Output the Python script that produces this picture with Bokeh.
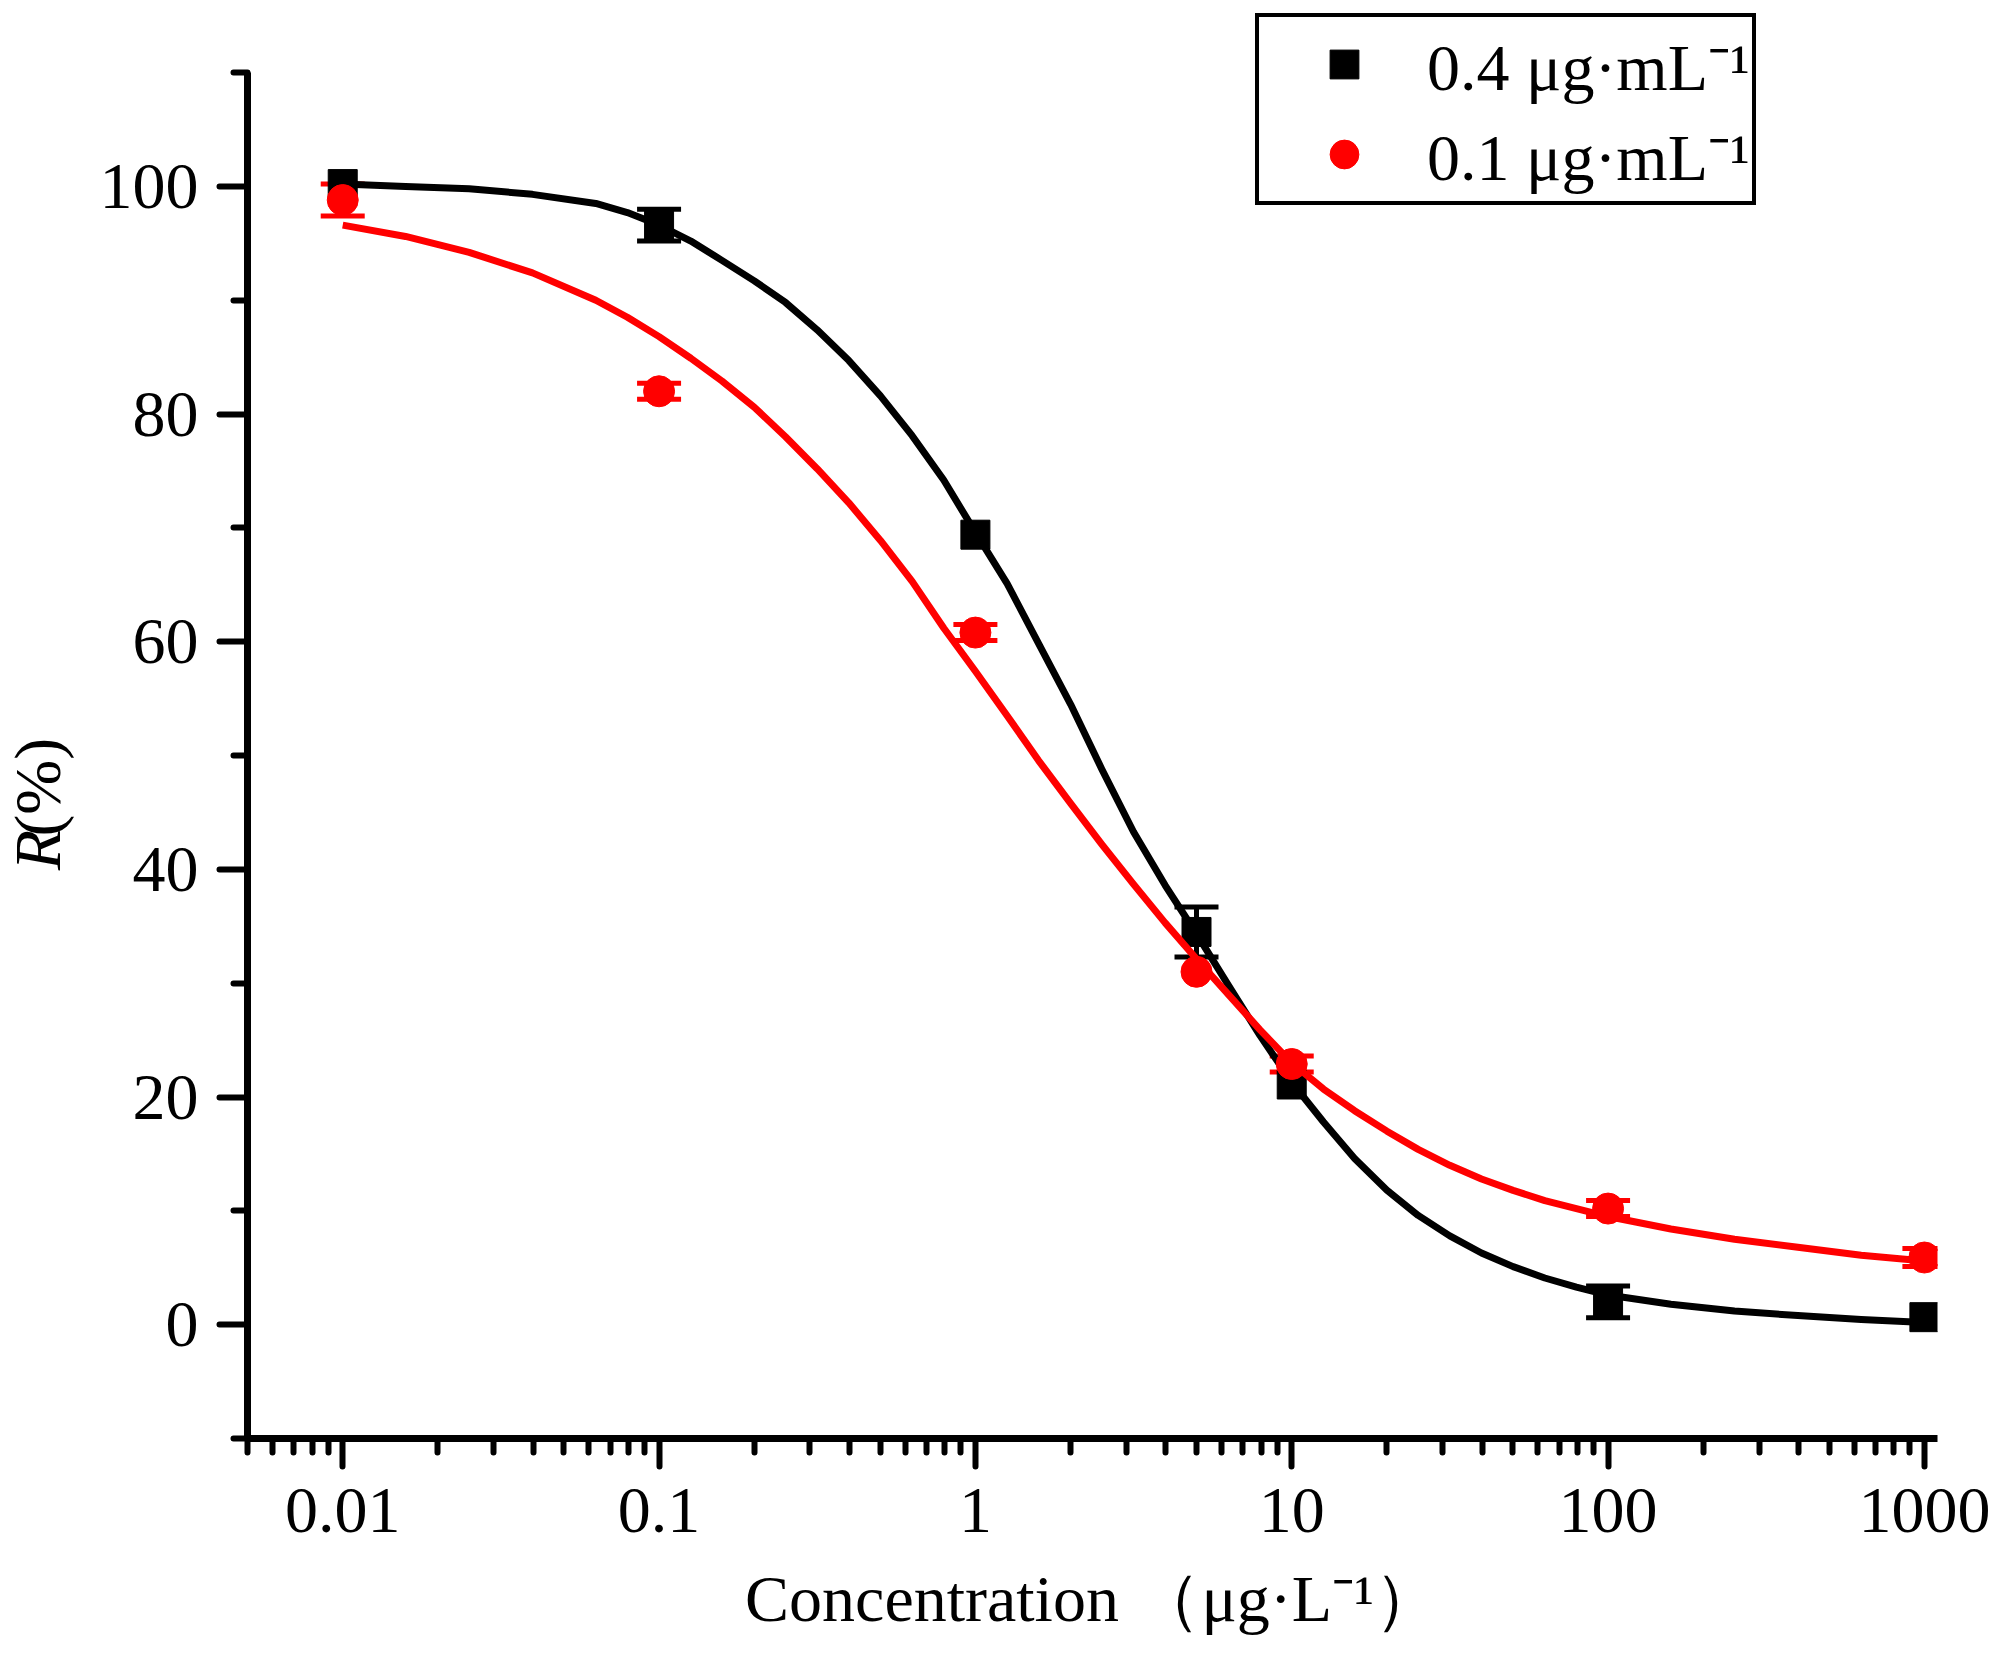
import math
from bokeh.plotting import figure
from bokeh.layouts import row
from bokeh.models import (Range1d, FixedTicker, CustomJSTickFormatter, ColumnDataSource,
                          Whisker, TeeHead, Label)
from bokeh.embed import file_html
from bokeh.resources import INLINE

# ---------------- data ----------------
conc = [0.01, 0.1, 1, 5, 10, 100, 1000]

r_04 = [100.2, 96.6, 69.4, 34.5, 21.1, 2.0, 0.66]      # 0.4 ug/mL, squares
e_04 = [0.0, 1.4, 0.0, 2.2, 0.0, 1.4, 0.0]
r_01 = [98.8, 82.0, 60.8, 31.0, 22.9, 10.2, 5.9]       # 0.1 ug/mL, circles
e_01 = [1.4, 0.7, 0.7, 0.0, 0.7, 0.7, 0.8]

fit_x = [0.01, 0.0158, 0.0251, 0.0398, 0.0631, 0.0794, 0.1, 0.126, 0.158, 0.2,
         0.251, 0.316, 0.398, 0.501, 0.631, 0.794, 1, 1.26, 1.58, 2.0,
         2.51, 3.16, 3.98, 5.01, 6.31, 7.94, 10, 12.6, 15.8, 20.0,
         25.1, 31.6, 39.8, 50.1, 63.1, 79.4, 100, 158, 251, 398, 631, 1000]
fit_04 = [100.2, 100.0, 99.8, 99.3, 98.5, 97.7, 96.6, 95.2, 93.5, 91.7,
          89.8, 87.4, 84.7, 81.6, 78.1, 74.2, 69.6, 65.1, 59.9, 54.5,
          48.8, 43.3, 38.6, 34.3, 29.8, 25.4, 21.3, 17.8, 14.6, 11.8,
          9.6, 7.8, 6.3, 5.1, 4.1, 3.3, 2.6, 1.8, 1.2, 0.8, 0.45, 0.2]
fit_01 = [96.6, 95.6, 94.2, 92.4, 90.0, 88.5, 86.8, 84.9, 82.9, 80.6,
          78.0, 75.2, 72.2, 68.9, 65.3, 61.2, 57.4, 53.5, 49.6, 45.8,
          42.2, 38.7, 35.3, 32.1, 29.0, 25.9, 23.0, 20.7, 18.8, 17.0,
          15.4, 14.0, 12.8, 11.8, 10.9, 10.2, 9.5, 8.4, 7.5, 6.8, 6.1, 5.6]

x_major = [0.01, 0.1, 1, 10, 100, 1000]
y_major = [0, 20, 40, 60, 80, 100]
y_minor = [-10, 10, 30, 50, 70, 90, 110]
x_minor = [0.005, 0.006, 0.007, 0.008, 0.009] + \
          [k * 10.0 ** e for e in range(-2, 3) for k in range(2, 10)]

label_04 = "0.4 μg·mL⁻¹"
label_01 = "0.1 μg·mL⁻¹"
x_title = "Concentration （μg·L⁻¹）"
y_title_italic = "R"
y_title_rest = "(%)"

FONT = "Liberation Serif"
H = 1670
LEFT_W = 90

# ---------------- left strip holding the y title ----------------
side = figure(width=LEFT_W, height=H, x_range=Range1d(0, LEFT_W), y_range=Range1d(0, H),
              output_backend="svg", toolbar_location=None,
              x_axis_location=None, y_axis_location=None, min_border=0)
side.outline_line_color = None
side.xgrid.visible = False
side.ygrid.visible = False
side.add_layout(Label(x=37, y=660, text=y_title_italic, angle=math.pi / 2,
                      text_font=FONT, text_font_style="italic", text_font_size="66px",
                      text_align="left", text_baseline="middle", text_color="black"))
side.add_layout(Label(x=37, y=699, text=y_title_rest, angle=math.pi / 2,
                      text_font=FONT, text_font_style="normal", text_font_size="66px",
                      text_align="left", text_baseline="middle", text_color="black"))

# ---------------- main figure ----------------
p = figure(width=1990 - LEFT_W, height=H, x_axis_type="log",
           x_range=Range1d(0.005, 1100), y_range=Range1d(-10, 116.33),
           output_backend="svg", toolbar_location=None,
           min_border_left=247 - LEFT_W, min_border_right=53,
           min_border_top=0, min_border_bottom=H - 1438)
p.outline_line_color = None
p.xgrid.visible = False
p.ygrid.visible = False
p.background_fill_color = "white"
p.border_fill_color = "white"

for ax in (p.xaxis[0], p.yaxis[0]):
    ax.axis_line_width = 7
    ax.axis_line_color = "black"
    ax.major_tick_line_width = 6
    ax.minor_tick_line_width = 6
    ax.major_tick_line_color = "black"
    ax.minor_tick_line_color = "black"
    ax.major_tick_line_cap = "round"
    ax.minor_tick_line_cap = "round"
    ax.major_tick_in = 0
    ax.major_tick_out = 28
    ax.minor_tick_in = 0
    ax.minor_tick_out = 14
    ax.major_label_text_font = FONT
    ax.major_label_text_font_size = "66px"
    ax.major_label_text_color = "black"

p.xaxis.ticker = FixedTicker(ticks=x_major, minor_ticks=x_minor)
p.xaxis.formatter = CustomJSTickFormatter(code="return String(tick);")
p.xaxis.major_label_standoff = 22
p.xaxis.axis_label = x_title
p.xaxis.axis_label_text_font = FONT
p.xaxis.axis_label_text_font_size = "66px"
p.xaxis.axis_label_text_font_style = "normal"
p.xaxis.axis_label_text_color = "black"
p.xaxis.axis_label_standoff = 27

p.yaxis.ticker = FixedTicker(ticks=y_major, minor_ticks=y_minor)
p.yaxis.bounds = (-10, 110)
p.yaxis.major_label_standoff = 21
p.yaxis.axis_label = None

# ---------------- error bars ----------------
def err_source(xs, ys, es):
    idx = [i for i, e in enumerate(es) if e > 0]
    return ColumnDataSource(dict(x=[xs[i] for i in idx],
                                 upper=[ys[i] + es[i] for i in idx],
                                 lower=[ys[i] - es[i] for i in idx]))

for ys, es, col in ((r_04, e_04, "black"), (r_01, e_01, "red")):
    w = Whisker(source=err_source(conc, ys, es), base="x", upper="upper", lower="lower",
                dimension="height", line_color=col, line_width=5,
                upper_head=TeeHead(size=44, line_color=col, line_width=5),
                lower_head=TeeHead(size=44, line_color=col, line_width=5))
    p.add_layout(w)

# ---------------- curves & points ----------------
p.line(fit_x, fit_04, line_color="black", line_width=7, line_join="round")
sq = p.scatter(conc, r_04, marker="square", size=29, fill_color="black",
               line_color="black", legend_label=label_04)
p.line(fit_x, fit_01, line_color="red", line_width=7, line_join="round")
ci = p.scatter(conc, r_01, marker="circle", size=31, fill_color="red",
               line_color="red", legend_label=label_01)

lg = p.legend[0]
lg.location = (1255 - 247, 1438 - 205)
lg.orientation = "vertical"
lg.glyph_width = 166
lg.glyph_height = 72
lg.label_standoff = 0
lg.padding = 2
lg.spacing = 0
lg.margin = 0
lg.border_line_color = "black"
lg.border_line_alpha = 1.0
lg.border_line_width = 4
lg.background_fill_color = "white"
lg.background_fill_alpha = 1
lg.label_text_font = FONT
lg.label_text_font_size = "66px"
lg.label_text_color = "black"

layout = row(side, p)
open("out.html", "w").write(file_html(layout, INLINE))
